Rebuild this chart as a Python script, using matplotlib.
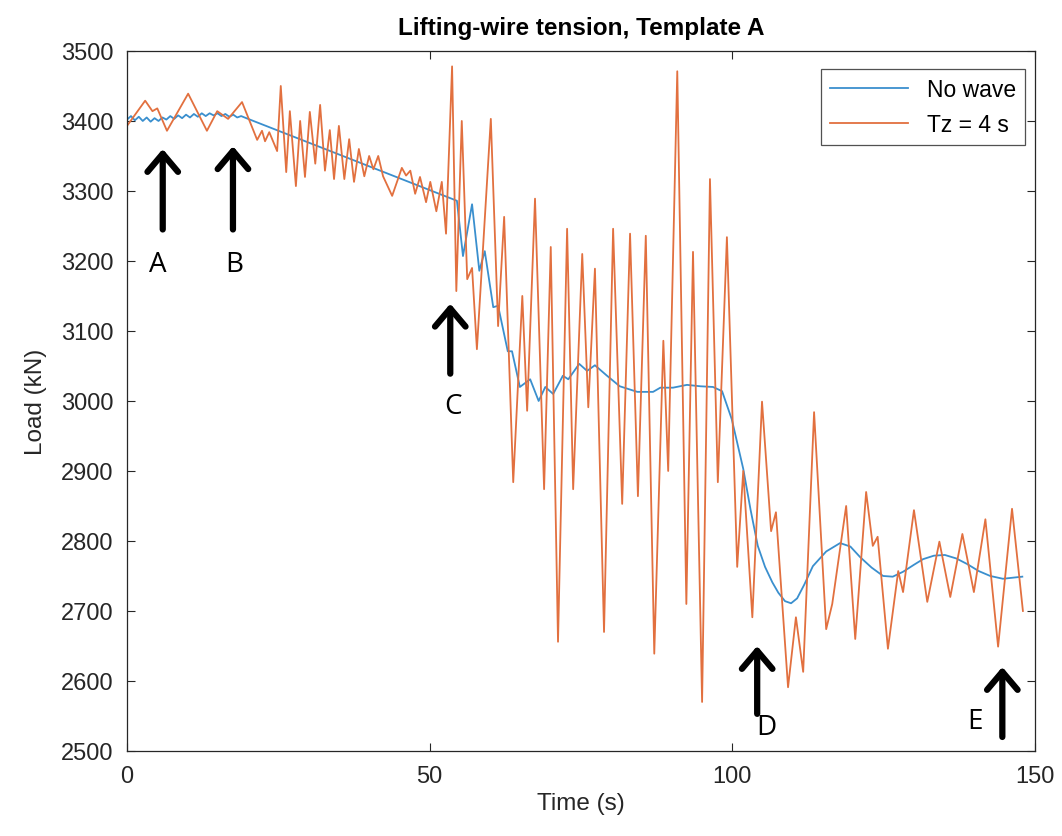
import matplotlib
matplotlib.use("Agg")
import matplotlib.pyplot as plt
import numpy as np

plt.rcParams['font.family'] = ['Liberation Sans', 'DejaVu Sans']

# orange series (Tz = 4 s), peaks/troughs
wave_t = [0.0, 3.0, 4.2, 5.0, 6.6, 10.1, 13.2, 14.9, 16.7, 19.0,
          21.5, 22.3, 22.8, 23.5, 24.8, 25.4, 26.3, 26.9, 27.9, 28.6,
          29.4, 30.2, 31.1, 31.9, 32.7, 33.5, 34.2, 35.0, 35.9, 36.7,
          37.5, 38.3, 39.2, 40.0, 40.7, 41.5, 42.3, 43.8, 45.4, 46.1,
          46.8, 47.6, 48.4, 49.4, 50.1, 51.1, 52.0, 52.7, 53.7, 54.4,
          55.3, 56.2, 57.0, 57.8, 60.1, 61.3, 62.3, 63.8, 65.3, 66.1,
          67.4, 68.9, 70.0, 71.2, 72.7, 73.7, 75.2, 76.2, 77.3, 78.8,
          80.3, 81.8, 83.1, 84.4, 85.7, 87.1, 88.6, 89.4, 90.9, 92.4,
          93.5, 95.0, 96.3, 97.6, 99.1, 100.8, 101.8, 103.3, 104.9, 106.4,
          107.2, 109.2, 110.5, 111.7, 113.5, 115.5, 116.5, 118.8, 120.3, 122.1,
          123.2, 124.0, 125.7, 127.4, 128.2, 130.0, 132.2, 134.2, 136.0, 138.0,
          139.9, 141.8, 143.9, 146.2, 148.0]
wave_load = [3393, 3429, 3414, 3418, 3386, 3439, 3386, 3414, 3403, 3427,
             3373, 3386, 3371, 3384, 3357, 3450, 3327, 3414, 3307, 3400,
             3320, 3413, 3339, 3423, 3329, 3387, 3317, 3393, 3317, 3374,
             3313, 3360, 3321, 3350, 3331, 3350, 3321, 3293, 3333, 3322,
             3329, 3296, 3320, 3284, 3313, 3271, 3313, 3239, 3478, 3157,
             3400, 3174, 3190, 3074, 3403, 3107, 3263, 2884, 3150, 2986,
             3289, 2874, 3220, 2656, 3246, 2874, 3210, 2991, 3189, 2670,
             3246, 2853, 3239, 2864, 3236, 2639, 3086, 2900, 3471, 2710,
             3213, 2570, 3317, 2884, 3234, 2763, 2900, 2691, 2999, 2814,
             2841, 2591, 2691, 2613, 2984, 2674, 2710, 2850, 2660, 2870,
             2793, 2806, 2646, 2757, 2727, 2844, 2713, 2799, 2720, 2810,
             2727, 2831, 2649, 2846, 2700]

# blue series (no wave)
calm_t = [0.0, 0.65, 1.3, 1.95, 2.6, 3.25, 3.9, 4.55, 5.2, 5.85,
          6.5, 7.15, 7.8, 8.45, 9.1, 9.75, 10.4, 11.05, 11.7, 12.35,
          13.0, 13.65, 14.3, 14.95, 15.6, 16.25, 16.9, 17.55, 18.2, 18.85,
          20.0, 32.7, 54.5, 55.5, 57.0, 58.2, 59.1, 60.5, 61.3, 62.9,
          63.6, 64.9, 66.6, 68.0, 69.1, 70.4, 72.0, 72.9, 74.7, 76.0,
          77.3, 79.3, 81.4, 84.3, 86.9, 88.1, 90.2, 92.5, 94.7, 96.8,
          98.3, 99.9, 101.8, 103.0, 104.2, 105.4, 106.6, 107.6, 108.7, 109.7,
          110.7, 111.9, 113.3, 115.5, 117.8, 119.5, 121.1, 123.0, 124.9, 126.5,
          128.2, 130.0, 131.5, 133.3, 135.1, 137.0, 138.8, 140.7, 142.6, 144.7,
          147.9]
calm_load = [3402, 3407, 3401, 3406, 3400, 3405, 3399, 3404, 3400, 3405,
             3402, 3407, 3403, 3408, 3404, 3409, 3405, 3410, 3406, 3411,
             3407, 3411, 3408, 3411, 3407, 3410, 3406, 3409, 3405, 3407,
             3403, 3360, 3286, 3207, 3281, 3186, 3214, 3134, 3136, 3071,
             3071, 3020, 3031, 3000, 3020, 3010, 3036, 3031, 3053, 3043,
             3051, 3036, 3021, 3013, 3013, 3019, 3019, 3023, 3021, 3020,
             3014, 2974, 2903, 2845, 2793, 2763, 2741, 2726, 2714, 2711,
             2718, 2738, 2764, 2785, 2797, 2792, 2777, 2762, 2750, 2749,
             2756, 2766, 2774, 2779, 2780, 2775, 2767, 2757, 2750, 2746,
             2749]

# event markers
mark_names = ['A', 'B', 'C', 'D', 'E']
mark_t = [5.9, 17.5, 53.4, 104.1, 144.6]
mark_tip = [3360, 3364, 3139, 2650, 2620]
mark_tail = [3245, 3245, 3039, 2553, 2520]
label_t = [5.1, 17.7, 53.9, 105.6, 140.1]
label_load = [3196, 3196, 2993, 2534, 2543]

fig = plt.figure(figsize=(10.62, 8.37), dpi=100)
ax = fig.add_axes([0.1196, 0.1016, 0.855, 0.8363])

ax.plot(calm_t, calm_load, color='#3a8fce', lw=1.3, label='No wave')
ax.plot(wave_t, wave_load, color='#e2703f', lw=1.3, label='Tz = 4 s')

for n, t, tip, tail, lt, ll in zip(mark_names, mark_t, mark_tip, mark_tail, label_t, label_load):
    ax.annotate('', xy=(t, tip), xytext=(t, tail),
                arrowprops=dict(arrowstyle='->,head_length=0.65,head_width=0.55',
                                lw=4.5, color='black', mutation_scale=20,
                                shrinkA=0, shrinkB=0))
    ax.text(lt, ll, n, fontsize=20, ha='center', va='center',
            family=['Open Sans', 'DejaVu Sans'])

ax.set_xlim(0, 150)
ax.set_ylim(2500, 3500)
ax.set_xticks([0, 50, 100, 150])
ax.set_yticks(np.arange(2500, 3501, 100))
ax.tick_params(direction='in', top=True, right=True, labelsize=17,
               colors='#262626', length=6, width=0.8, pad=10)
for s in ax.spines.values():
    s.set_color('#262626')
    s.set_linewidth(0.9)

ax.set_xlabel('Time (s)', fontsize=17.5, color='#262626', labelpad=4)
ax.set_ylabel('Load (kN)', fontsize=17.5, color='#262626', labelpad=10)
ax.set_title('Lifting-wire tension, Template A', fontsize=17.5,
             fontweight='bold', pad=12)

leg = ax.legend(loc='upper right', bbox_to_anchor=(0.989, 0.974),
                borderaxespad=0, fontsize=16.5, handlelength=3.4,
                fancybox=False, edgecolor='#262626')
leg.get_frame().set_linewidth(0.9)

fig.savefig('out.png', dpi=100)
